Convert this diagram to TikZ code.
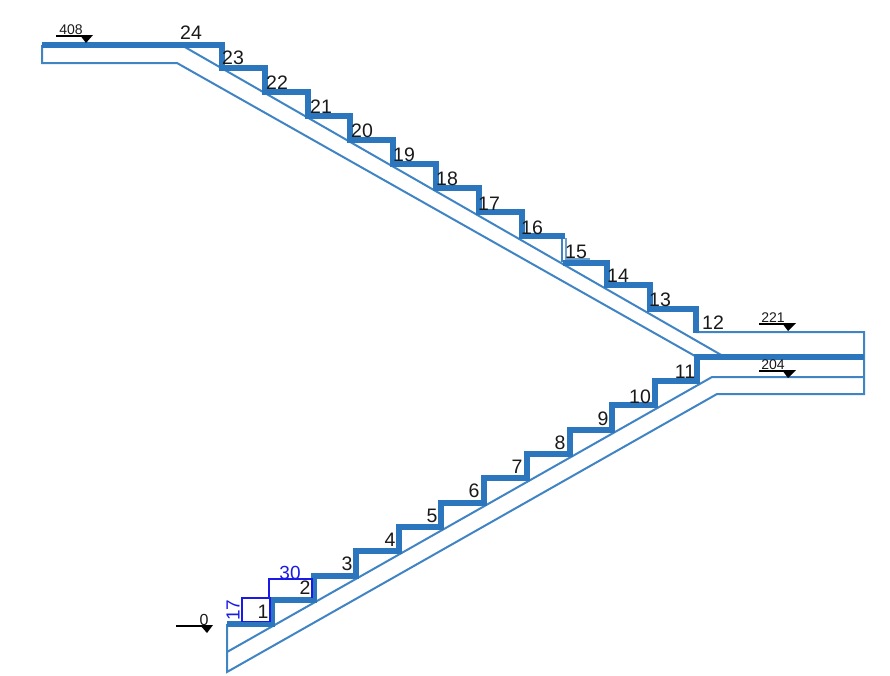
\documentclass[tikz,border=0pt]{standalone}
\usepackage{fontspec}
\setmainfont{Liberation Sans}
\definecolor{stair}{HTML}{2B76BC}
\definecolor{dimblue}{HTML}{1A1AE6}
\tikzset{
  thick stair/.style={draw=stair,line width=5.8pt,line join=miter},
  thin stair/.style={draw=stair!90,line width=2pt,line join=miter},
  dimline/.style={draw=dimblue,line width=1.4pt},
  steplabel/.style={font=\fontsize{19.5}{19.5}\selectfont,text=black!90,inner sep=0pt},
  dimlabel/.style={font=\fontsize{19}{19}\selectfont,text=dimblue,inner sep=0pt},
  levellabel/.style={font=\fontsize{14}{14}\selectfont,text=black!90,inner sep=0pt},
  levelline/.style={draw=black,line width=1.5pt},
  leveltip/.style={fill=black,draw=none}
}
\begin{document}
\begin{tikzpicture}[x=1pt,y=-1pt]
\useasboundingbox (0,0) rectangle (890,675);
% thin outlines, lower flight
\path[thin stair] (227,624) -- (227,672) -- (717,394) -- (864,394) -- (864,332) -- (696,332);
\path[thin stair] (227,652) -- (712,377) -- (864,377);
% thin outlines, upper flight
\path[thin stair] (42,45) -- (42,63) -- (177,63) -- (695,356);
\path[thin stair] (183,46) -- (723,356);
% landing detail at step 15
\path[thin stair,line width=1.3pt] (562,236) -- (562,262);
\path[draw=stair!70,line width=1.2pt] (566,238) -- (566,259) -- (590,259);
% thick treads and risers
\path[thick stair] (227,624) -- (272,624) -- (272,600) -- (314,600) -- (314,576) -- (356,576) -- (356,551)
  -- (399,551) -- (399,527) -- (441,527) -- (441,503) -- (484,503) -- (484,478) -- (527,478) -- (527,454)
  -- (570,454) -- (570,430) -- (612,430) -- (612,405) -- (655,405) -- (655,381) -- (697,381) -- (697,357) -- (864,357);
\path[thick stair] (42,45) -- (222,45) -- (222,68) -- (265,68) -- (265,92) -- (308,92) -- (308,116)
  -- (350,116) -- (350,140) -- (393,140) -- (393,164) -- (436,164) -- (436,188) -- (479,188) -- (479,212)
  -- (522,212) -- (522,236) -- (565,236);
\path[thick stair] (563,263) -- (607,263) -- (607,285) -- (650,285) -- (650,309) -- (696,309) -- (696,333);
% step numbers
\foreach \n/\x/\y in {1/263/612,2/305/588,3/347/564,4/390/540,5/432/516,6/474/491,7/517/467,8/560/443,
  9/603/419,10/640/397,11/685/372,12/713/323,13/660/300,14/618/276,15/576/252,16/532/228,17/489/204,
  18/447/179,19/404/155,20/362/131,21/321/107,22/277/83,23/233/58,24/191/33}
  \node[steplabel] (step\n) at (\x,\y) {\n};
% dimensions
\path[dimline] (242,621.5) -- (270,621.5) -- (270,598) -- (242,598) -- cycle;
\path[dimline] (269,598) -- (269,579) -- (312,579) -- (312,598);
\node[dimlabel,rotate=90] (rise) at (233,610) {17};
\node[dimlabel] (going) at (290,573) {30};
% level marks
\path[levelline] (176,626) -- (205,626);
\path[leveltip] (200,625) -- (213,625) -- (207,633) -- cycle;
\node[levellabel,font=\fontsize{16}{16}\selectfont] (level0) at (204,620) {0};
\path[levelline] (56,36) -- (85,36);
\path[leveltip] (80,35) -- (93,35) -- (86,43) -- cycle;
\node[levellabel] (level408) at (71,30) {408};
\path[levelline] (759,324) -- (786,324);
\path[leveltip] (782,323) -- (796,323) -- (788,331) -- cycle;
\node[levellabel] (level221) at (773,318) {221};
\path[levelline] (759,371) -- (786,371);
\path[leveltip] (782,370) -- (796,370) -- (788,378) -- cycle;
\node[levellabel] (level204) at (773,365) {204};
\end{tikzpicture}
\end{document}
